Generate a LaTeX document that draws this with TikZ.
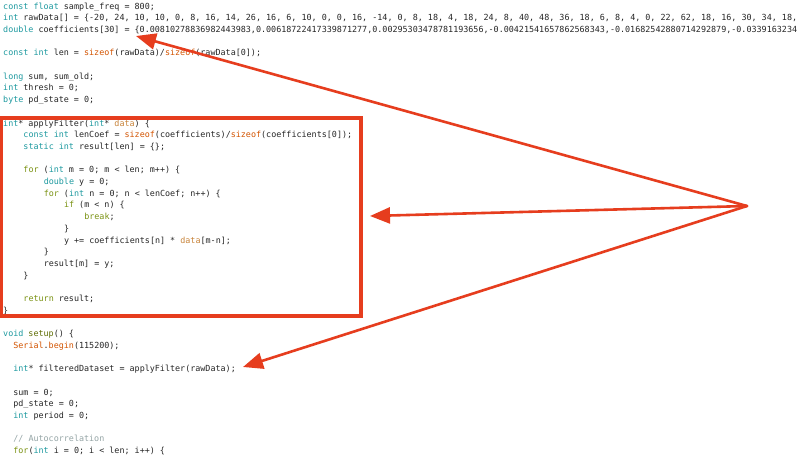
\documentclass[tikz,border=0pt]{standalone}
\usepackage{fontspec}
\setmonofont{DejaVu Sans Mono}
\usetikzlibrary{arrows.meta}
\definecolor{kwc}{HTML}{1E9AA0}
\definecolor{ctlc}{HTML}{7A9212}
\definecolor{fnc}{HTML}{D35400}
\definecolor{suc}{HTML}{5E6D03}
\definecolor{dtc}{HTML}{C8843A}
\definecolor{cmc}{HTML}{95A5A6}
\definecolor{txtc}{HTML}{262626}
\definecolor{redc}{HTML}{E63D1E}
\newcommand\kw[1]{\textcolor{kwc}{#1}}
\newcommand\ct[1]{\textcolor{ctlc}{#1}}
\newcommand\fn[1]{\textcolor{fnc}{#1}}
\newcommand\su[1]{\textcolor{suc}{#1}}
\newcommand\dt[1]{\textcolor{dtc}{#1}}
\newcommand\cm[1]{\textcolor{cmc}{#1}}
\newcommand\codefont{\ttfamily\fontsize{8.4}{10}\selectfont}
\newcommand\codeline[3]{\node[code] (L#1) at ({3+5.07*#2},{9+11.7*#1}) {#3};}
\tikzset{
  code/.style={anchor=base west, inner sep=0pt, font=\codefont, text=txtc},
  redbox/.style={draw=redc, line width=3.5pt, inner sep=0pt},
  pointer/.style={draw=redc, line width=2.6pt, -{Triangle[length=20pt,width=16pt]}, line cap=round}
}
\begin{document}
\begin{tikzpicture}[x=1pt,y=-1pt]
\useasboundingbox (0,0) rectangle (800,456);
\fill[white] (0,0) rectangle (800,456);
\clip (0,0) rectangle (800,456);
\codeline{0}{0}{\kw{const} \kw{float} sample\_freq = 800;}
\codeline{1}{0}{\kw{int} rawData[] = \{-20, 24, 10, 10, 0, 8, 16, 14, 26, 16, 6, 10, 0, 0, 16, -14, 0, 8, 18, 4, 18, 24, 8, 40, 48, 36, 18, 6, 8, 4, 0, 22, 62, 18, 16, 30, 34, 18,}
\codeline{2}{0}{\kw{double} coefficients[30] = \{0.00810278836982443983,0.00618722417339871277,0.00295303478781193656,-0.00421541657862568343,-0.01682542880714292879,-0.0339163234}
\codeline{4}{0}{\kw{const} \kw{int} len = \fn{sizeof}(rawData)/\fn{sizeof}(rawData[0]);}
\codeline{6}{0}{\kw{long} sum, sum\_old;}
\codeline{7}{0}{\kw{int} thresh = 0;}
\codeline{8}{0}{\kw{byte} pd\_state = 0;}
\codeline{10}{0}{\kw{int}* applyFilter(\kw{int}* \dt{data}) \{}
\codeline{11}{4}{\kw{const} \kw{int} lenCoef = \fn{sizeof}(coefficients)/\fn{sizeof}(coefficients[0]);}
\codeline{12}{4}{\kw{static} \kw{int} result[len] = \{\};}
\codeline{14}{4}{\ct{for} (\kw{int} m = 0; m < len; m++) \{}
\codeline{15}{8}{\kw{double} y = 0;}
\codeline{16}{8}{\ct{for} (\kw{int} n = 0; n < lenCoef; n++) \{}
\codeline{17}{12}{\ct{if} (m < n) \{}
\codeline{18}{16}{\ct{break};}
\codeline{19}{12}{\}}
\codeline{20}{12}{y += coefficients[n] * \dt{data}[m-n];}
\codeline{21}{8}{\}}
\codeline{22}{8}{result[m] = y;}
\codeline{23}{4}{\}}
\codeline{25}{4}{\ct{return} result;}
\codeline{26}{0}{\}}
\codeline{28}{0}{\kw{void} \su{setup}() \{}
\codeline{29}{2}{\fn{Serial}.\fn{begin}(115200);}
\codeline{31}{2}{\kw{int}* filteredDataset = applyFilter(rawData);}
\codeline{33}{2}{sum = 0;}
\codeline{34}{2}{pd\_state = 0;}
\codeline{35}{2}{\kw{int} period = 0;}
\codeline{37}{2}{\cm{// Autocorrelation}}
\codeline{38}{2}{\ct{for}(\kw{int} i = 0; i < len; i++) \{}
% highlight box around applyFilter
\node[redbox, minimum width=360pt, minimum height=198pt] (fbox) at (181,217) {};
% arrows
\coordinate (hub) at (747,206);
\coordinate (tipA) at (136,36);
\coordinate (tipB) at (370,216);
\coordinate (tipC) at (243,367);
\draw[pointer] (hub) -- (tipA);
\draw[pointer] (hub) -- (tipB);
\draw[pointer] (hub) -- (tipC);
\end{tikzpicture}
\end{document}
